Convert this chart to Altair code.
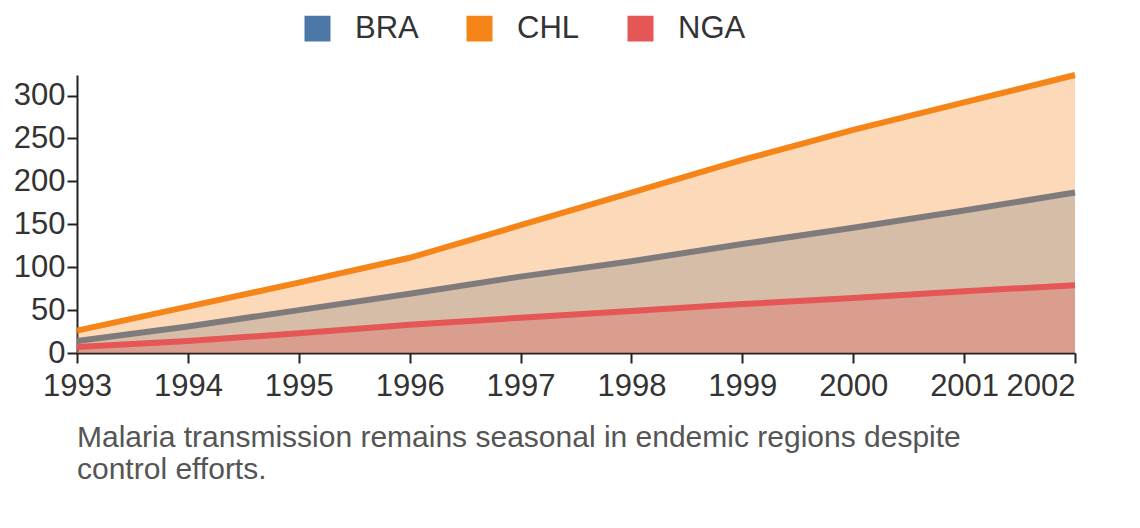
import altair as alt
import pandas as pd

YEARS = list(range(1993, 2003))
BRA = [14, 31, 50, 69, 89, 107, 127, 146, 166, 187]
CHL = [26, 54, 82, 111, 149, 187, 225, 260, 292, 324]
NGA = [7, 14, 23, 33, 41, 49, 57, 64, 72, 79]
SERIES = ["BRA", "CHL", "NGA"]
COLOURS = ["#4c78a8", "#f58518", "#e45756"]

rows = []
for name, vals in zip(SERIES, [BRA, CHL, NGA]):
    for y, v in zip(YEARS, vals):
        rows.append({"year": y, "country": name, "value": v})
df = pd.DataFrame(rows)

colour = alt.Color("country:N", scale=alt.Scale(domain=SERIES, range=COLOURS),
                   legend=alt.Legend(orient="none", legendX=225, legendY=-62, direction="horizontal",
                                     title=None, symbolType="square",
                                     symbolSize=600, labelFontSize=31, columnPadding=45,
                                     labelOffset=22, symbolOpacity=1, labelColor="#333"))
x = alt.X("year:Q", scale=alt.Scale(domain=[1993, 2002], nice=False),
          axis=alt.Axis(format="d", values=YEARS, grid=False, title=None, labelFontSize=31,
                        labelFlush=False,
                        labelAlign=alt.expr("datum.value == 2002 ? 'right' : 'center'"),
                        tickSize=10, labelPadding=8, domainWidth=2, tickWidth=2))
y = alt.Y("value:Q", scale=alt.Scale(domain=[0, 324], nice=False),
          axis=alt.Axis(values=[0, 50, 100, 150, 200, 250, 300], grid=False, title=None,
                        labelFontSize=31, tickSize=10, domainWidth=2, tickWidth=2))

layers = []
for name in SERIES:
    sub = alt.Chart(df).transform_filter(alt.datum.country == name)
    layers.append(sub.mark_area(opacity=0.3).encode(x=x, y=y, color=colour))
    layers.append(sub.mark_line(strokeWidth=6).encode(x=x, y=y, color=colour))

chart = alt.layer(*layers).properties(
    width=998, height=278,
    title=alt.TitleParams(
        ["Malaria transmission remains seasonal in endemic regions despite", "control efforts."],
        orient="bottom", anchor="start", frame="group", fontSize=30, fontWeight="normal",
        color="#555", offset=22, lineHeight=32),
).configure(font="Liberation Sans").configure_view(stroke=None).configure_axis(
    labelColor="#333", domainColor="#222", tickColor="#222")

chart.save("out.html", embed_options={"renderer": "svg", "actions": False})
